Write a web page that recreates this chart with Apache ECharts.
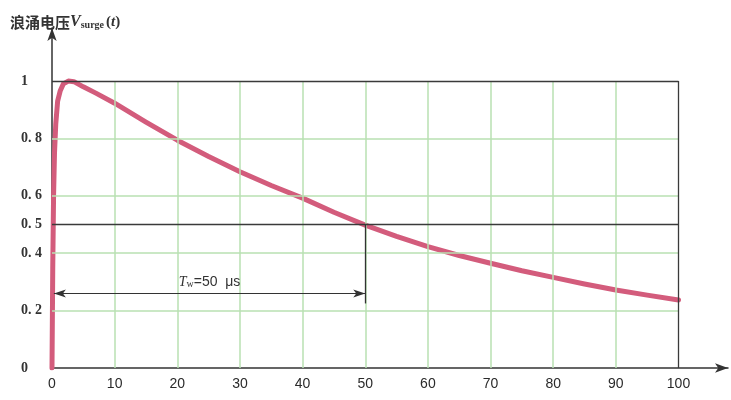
<!DOCTYPE html>
<html>
<head>
<meta charset="utf-8">
<script src="https://cdn.jsdelivr.net/npm/echarts@6/dist/echarts.min.js"></script>
<style>html,body{margin:0;padding:0;background:#fff;}#c{width:731px;height:400px;}</style>
</head>
<body>
<div id="c"></div>
<script>
// ---- data ----
const tValues = [0, 0.12, 0.25, 0.4, 0.6, 0.9, 1.3, 1.8, 2.6, 3.5, 5, 7, 10, 15, 20, 25, 30, 35, 40, 45, 50, 55, 60, 65, 70, 75, 80, 85, 90, 95, 100];
const vValues = [0, 0.35, 0.6, 0.75, 0.85, 0.93, 0.965, 0.99, 1.0, 0.998, 0.98, 0.958, 0.923, 0.857, 0.794, 0.737, 0.684, 0.636, 0.592, 0.543, 0.498, 0.459, 0.423, 0.392, 0.365, 0.339, 0.316, 0.293, 0.272, 0.254, 0.237];
const xTickLabels = [0, 10, 20, 30, 40, 50, 60, 70, 80, 90, 100];
const yTickValues = [0, 0.2, 0.4, 0.5, 0.6, 0.8, 1];
const yTickLabels = ['0', '0. 2', '0. 4', '0. 5', '0. 6', '0. 8', '1'];
const greenY = [0.2, 0.4, 0.6, 0.8];
const darkY = [0.5, 1];
const greenX = [10, 20, 30, 40, 50, 60, 70, 80, 90];
const darkX = [100];
const twStart = 0.3, twEnd = 50, twLevel = 0.26, twTickLow = 0.225;

const chart = echarts.init(document.getElementById('c'));
const near = (a, b) => Math.abs(a - b) < 1e-6;

const G = {color: '#b9e0b2', width: 1.5, type: 'solid'};
const D = {color: '#3a3a3a', width: 1.3, type: 'solid'};
const gridLines = [];
greenY.forEach(y => gridLines.push([{coord: [0, y], lineStyle: G}, {coord: [100, y]}]));
greenX.forEach(x => gridLines.push([{coord: [x, 0], lineStyle: G}, {coord: [x, 1]}]));
darkY.forEach(y => gridLines.push([{coord: [0, y], lineStyle: D}, {coord: [100, y]}]));
darkX.forEach(x => gridLines.push([{coord: [x, 0], lineStyle: D}, {coord: [x, 1]}]));

chart.setOption({
  backgroundColor: '#fff',
  animation: false,
  title: {
    left: 5, top: 5,
    text: '{cn|浪涌电压}{v|V}{sub|surge}{p|(}{t|t}{p|)}',
    textStyle: {
      rich: {
        cn: {fontFamily: 'Noto Sans CJK SC', fontWeight: 'bold', fontSize: 15, color: '#333', verticalAlign: 'bottom', lineHeight: 20},
        v: {fontFamily: 'Liberation Serif', fontStyle: 'italic', fontSize: 16, color: '#333', verticalAlign: 'bottom', lineHeight: 20},
        sub: {fontFamily: 'Liberation Serif', fontSize: 10, color: '#333', verticalAlign: 'bottom', lineHeight: 14, padding: [0, 2, 0, 0]},
        p: {fontFamily: 'Liberation Serif', fontSize: 15, color: '#333', verticalAlign: 'bottom', lineHeight: 20},
        t: {fontFamily: 'Liberation Serif', fontStyle: 'italic', fontSize: 15, color: '#333', verticalAlign: 'bottom', lineHeight: 20}
      }
    }
  },
  grid: {left: 52, right: 3, top: 28, bottom: 32, containLabel: false},
  xAxis: {
    type: 'value', min: 0, max: 107.9, interval: 10,
    axisLine: {show: true, lineStyle: {color: '#333', width: 1.5}, symbol: ['none', 'arrow'], symbolSize: [7, 13]},
    axisTick: {show: false},
    splitLine: {show: false},
    axisLabel: {
      margin: 9, color: '#2a2a2a', fontSize: 14, fontFamily: 'Liberation Sans',
      showMaxLabel: false,
      formatter: v => xTickLabels.some(t => near(t, v)) ? String(v) : ''
    }
  },
  yAxis: {
    type: 'value', min: 0, max: 1.185, interval: 0.1,
    axisLine: {show: true, lineStyle: {color: '#333', width: 1.5}, symbol: ['none', 'arrow'], symbolSize: [7, 13]},
    axisTick: {show: false},
    splitLine: {show: false},
    axisLabel: {
      margin: 31, align: 'left', color: '#333', fontSize: 14, fontWeight: 'bold', fontFamily: 'Liberation Serif',
      showMaxLabel: false,
      formatter: v => {
        const i = yTickValues.findIndex(t => near(t, v));
        return i < 0 ? '' : yTickLabels[i];
      }
    }
  },
  series: [
    {
      type: 'line', data: [], z: 1, silent: true,
      markLine: {silent: true, symbol: 'none', animation: false, label: {show: false},
        lineStyle: {type: 'solid'}, data: gridLines}
    },
    {
      type: 'line', data: [], z: 2, silent: true,
      markLine: {
        silent: true, animation: false,
        lineStyle: {type: 'solid', color: '#333', width: 1.2},
        data: [
          [{coord: [twStart, twLevel], symbol: 'arrow', symbolSize: [6, 12],
            lineStyle: {color: '#333', width: 1.2, type: 'solid'},
            label: {
              show: true, position: 'insideMiddleTop', distance: 4,
              formatter: '{T|T}{w|w}{e|=50  μs}',
              rich: {
                T: {fontFamily: 'Liberation Serif', fontStyle: 'italic', fontSize: 14, color: '#333', verticalAlign: 'bottom', lineHeight: 18},
                w: {fontFamily: 'Liberation Serif', fontSize: 10, color: '#333', verticalAlign: 'bottom', lineHeight: 12},
                e: {fontFamily: 'Liberation Sans', fontSize: 14, color: '#333', verticalAlign: 'bottom', lineHeight: 18}
              }
            }},
           {coord: [twEnd, twLevel], symbol: 'arrow', symbolSize: [6, 12]}],
          [{coord: [twEnd, 0.5], symbol: 'none', lineStyle: {color: '#333', width: 1.3, type: 'solid'}, label: {show: false}},
           {coord: [twEnd, twTickLow], symbol: 'none'}]
        ]
      }
    },
    {
      type: 'line', z: 3,
      data: tValues.map((t, i) => [t, vValues[i]]),
      showSymbol: false, smooth: false,
      lineStyle: {color: '#d35c7c', width: 5, cap: 'round', join: 'round'}
    }
  ]
});
</script>
</body>
</html>
